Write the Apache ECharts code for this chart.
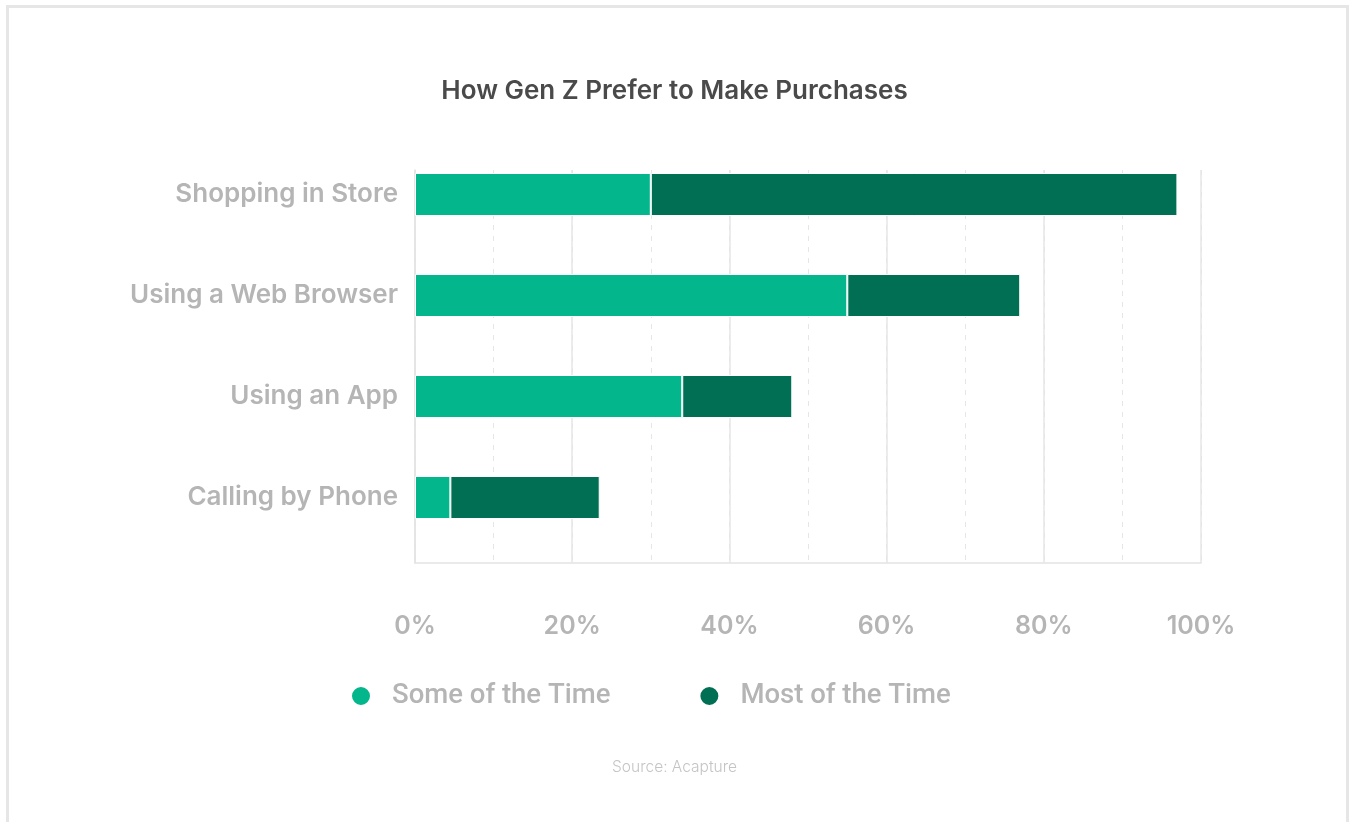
<!DOCTYPE html>
<html>
<head>
<meta charset="utf-8">
<script src="https://cdn.jsdelivr.net/npm/echarts@6/dist/echarts.min.js"></script>
<style>
html,body{margin:0;padding:0;background:#fff;}
#chart{width:1349px;height:822px;}
</style>
</head>
<body>
<div id="chart"></div>
<script>
const categories = ['Shopping in Store', 'Using a Web Browser', 'Using an App', 'Calling by Phone'];
const someOfTheTime = [30, 55, 34, 4.5];
const mostOfTheTime = [67, 22, 14, 19];
const seriesNames = ['Some of the Time', 'Most of the Time'];
const tickValues = [0, 20, 40, 60, 80, 100];

const FONT = 'Inter, Lato, sans-serif';
const chart = echarts.init(document.getElementById('chart'));
chart.setOption({
  animation: false,
  backgroundColor: '#fff',
  title: {
    text: 'How Gen Z Prefer to Make Purchases',
    left: 'center', top: 73,
    textStyle: {fontFamily: FONT, fontSize: 26, fontWeight: 600, color: '#4a4a4a'}
  },
  graphic: [
    {type: 'rect', shape: {x: 7.5, y: 6.5, width: 1340, height: 830}, style: {fill: 'none', stroke: '#e6e6e6', lineWidth: 3}, silent: true},
    {type: 'text', left: 'center', top: 759, style: {text: 'Source: Acapture', font: '300 15.5px ' + FONT, fill: '#c4c4c4'}}
  ],
  legend: {
    left: 345, top: 677,
    icon: 'circle', itemWidth: 20, itemHeight: 20, itemGap: 88,
    data: seriesNames,
    textStyle: {fontFamily: 'Roboto, sans-serif', fontSize: 27.5, fontWeight: 500, color: '#b5b5b5', padding: [0, 0, 0, 16]}
  },
  grid: [
    {left: 415, right: 148, top: 144, height: 404},
    {left: 415, right: 148, top: 170, height: 393}
  ],
  xAxis: [
    {gridIndex: 0, type: 'value', min: 0, max: 100, show: false},
    {gridIndex: 1, type: 'value', min: 0, max: 100, interval: 20,
     axisLine: {show: true, lineStyle: {color: '#e3e3e3', width: 1.5}},
     axisTick: {show: false},
     splitLine: {show: true, lineStyle: {color: '#e6e6e6', width: 1.5}},
     axisLabel: {margin: 51, fontFamily: FONT, fontSize: 25, fontWeight: 600, color: '#b5b5b5',
       formatter: v => tickValues.includes(v) ? v + '%' : ''}},
    {gridIndex: 1, type: 'value', min: 0, max: 100, interval: 10,
     axisLine: {show: false}, axisTick: {show: false}, axisLabel: {show: false},
     splitLine: {show: true, lineStyle: {color: '#e6e6e6', width: 1, type: [5, 6]}}}
  ],
  yAxis: [
    {gridIndex: 0, type: 'category', data: categories, inverse: true,
     axisLine: {show: false}, axisTick: {show: false},
     axisLabel: {margin: 17, fontFamily: FONT, fontSize: 26, fontWeight: 600, color: '#b5b5b5'}},
    {gridIndex: 1, type: 'value', min: 0, max: 1,
     axisLine: {show: true, lineStyle: {color: '#e3e3e3', width: 1.5}},
     axisTick: {show: false}, axisLabel: {show: false}, splitLine: {show: false}}
  ],
  series: [
    {name: seriesNames[0], type: 'bar', stack: 'total', xAxisIndex: 0, yAxisIndex: 0,
     barWidth: 43, data: someOfTheTime,
     itemStyle: {color: '#03b68b', borderColor: '#ffffff', borderWidth: 1}},
    {name: seriesNames[1], type: 'bar', stack: 'total', xAxisIndex: 0, yAxisIndex: 0,
     barWidth: 43, data: mostOfTheTime,
     itemStyle: {color: '#006f53', borderColor: '#ffffff', borderWidth: 1}}
  ]
});
</script>
</body>
</html>
